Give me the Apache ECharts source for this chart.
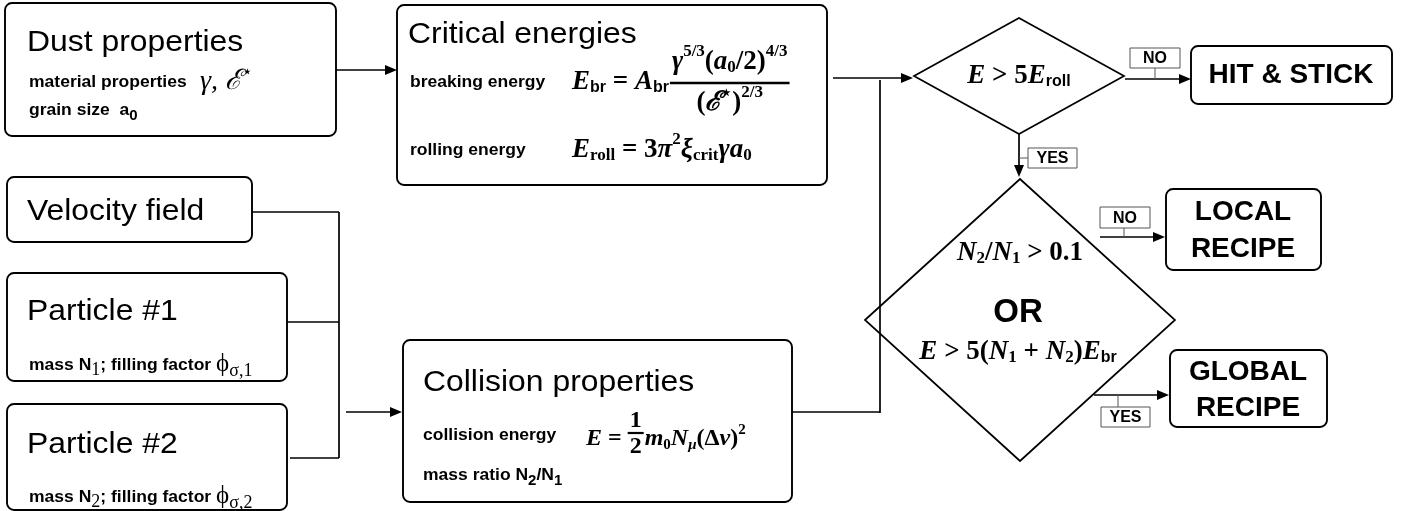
<!DOCTYPE html>
<html>
<head>
<meta charset="utf-8">
<script src="https://cdn.jsdelivr.net/npm/echarts@6/dist/echarts.min.js"></script>
<style>
  html, body { margin: 0; padding: 0; background: #fff; }
  #chart { width: 1405px; height: 511px; }
</style>
</head>
<body>
<div id="chart"></div>
<script>
// texts of the flow chart
var inputTitles = ['Dust properties', 'Velocity field', 'Particle #1', 'Particle #2'];
var stageTitles = ['Critical energies', 'Collision properties'];
var propLabels = ['material properties', 'grain size  a', 'breaking energy', 'rolling energy', 'collision energy', 'mass ratio N'];
var outcomes = ['HIT & STICK', 'LOCAL\nRECIPE', 'GLOBAL\nRECIPE'];
var branchTags = ['NO', 'YES'];
var joinWord = 'OR';

var SANS = "'Liberation Sans', Arial, sans-serif";
var SERIF = "'Liberation Serif', 'DejaVu Serif', serif";
var ST = {
    title: { fontSize: 29, fontFamily: SANS, sx: 1.1 },
    lab: { fontSize: 17, fontWeight: 'bold', fontFamily: SANS, sx: 1.03 },
    labSub: { fontSize: 15, fontWeight: 'bold', fontFamily: SANS },
    mi: { fontSize: 27, fontWeight: 'bold', fontStyle: 'italic', fontFamily: SERIF },
    mr: { fontSize: 27, fontWeight: 'bold', fontFamily: SERIF },
    sc: { fontSize: 17, fontWeight: 'bold', fontFamily: SERIF },
    ss: { fontSize: 16, fontWeight: 'bold', fontFamily: SANS },
    mi2: { fontSize: 24, fontWeight: 'bold', fontStyle: 'italic', fontFamily: SERIF },
    mr2: { fontSize: 24, fontWeight: 'bold', fontFamily: SERIF },
    sc2: { fontSize: 15, fontWeight: 'bold', fontFamily: SERIF },
    sci2: { fontSize: 15, fontWeight: 'bold', fontStyle: 'italic', fontFamily: SERIF },
    gi: { fontSize: 28, fontStyle: 'italic', fontFamily: SERIF },
    gs: { fontSize: 17, fontFamily: SERIF },
    phi: { fontSize: 25, fontFamily: SERIF },
    phs: { fontSize: 18, fontFamily: SERIF },
    big: { fontSize: 28, fontWeight: 'bold', fontFamily: SANS },
    or: { fontSize: 33, fontWeight: 'bold', fontFamily: SANS },
    tag: { fontSize: 16, fontWeight: 'bold', fontFamily: SANS }
};

var ctx = document.createElement('canvas').getContext('2d');
function measure(t, st) {
    ctx.font = (st.fontStyle || 'normal') + ' ' + (st.fontWeight || 'normal') + ' ' + st.fontSize + 'px ' + st.fontFamily;
    return ctx.measureText(t).width * (st.sx || 1);
}

var els = [];
function txt(x, y, t, st, align) {
    els.push({
        type: 'text', x: x, y: y, scaleX: st.sx || 1, silent: true,
        style: {
            text: t, fontSize: st.fontSize, fontFamily: st.fontFamily,
            fontWeight: st.fontWeight || 'normal', fontStyle: st.fontStyle || 'normal',
            fill: '#000', align: align || 'left', verticalAlign: 'middle', lineHeight: 36
        }
    });
}
// segs: [text, styleKey, dy]
function rowWidth(segs) {
    var w = 0;
    segs.forEach(function (s) { w += measure(s[0], ST[s[1]]); });
    return w;
}
function row(x, y, segs, anchor) {
    var w = rowWidth(segs);
    var cx = anchor === 'center' ? x - w / 2 : x;
    var x0 = cx;
    segs.forEach(function (s) {
        txt(cx, y + (s[2] || 0), s[0], ST[s[1]]);
        cx += measure(s[0], ST[s[1]]);
    });
    return { x0: x0, w: w };
}
function line(x1, y1, x2, y2, lw, color) {
    els.push({ type: 'line', silent: true, shape: { x1: x1, y1: y1, x2: x2, y2: y2 },
        style: { stroke: color || '#000', lineWidth: lw || 1.7 } });
}
function box(x, y, w, h, r, lw, color) {
    els.push({ type: 'rect', silent: true, shape: { x: x, y: y, width: w, height: h, r: r },
        style: { fill: '#fff', stroke: color || '#000', lineWidth: lw || 1.9 } });
}
function diamond(cx, cy, hw, hh) {
    els.push({ type: 'polygon', silent: true,
        shape: { points: [[cx - hw, cy], [cx, cy - hh], [cx + hw, cy], [cx, cy + hh]] },
        style: { fill: '#fff', stroke: '#000', lineWidth: 1.7 } });
}
function arrow(x1, y1, x2, y2) {
    var a = Math.atan2(y2 - y1, x2 - x1), L = 12, W = 5;
    var bx = x2 - L * Math.cos(a), by = y2 - L * Math.sin(a);
    line(x1, y1, bx, by, 1.7);
    els.push({ type: 'polygon', silent: true,
        shape: { points: [[x2, y2], [bx - W * Math.sin(a), by + W * Math.cos(a)], [bx + W * Math.sin(a), by - W * Math.cos(a)]] },
        style: { fill: '#000' } });
}
function tag(x, y, w, h, t) {
    box(x, y, w, h, 0, 1, '#555');
    txt(x + w / 2, y + h / 2 + 1, t, ST.tag, 'center');
}
function frac(x, y, num, den, dyN, dyD, lw) {
    var w = Math.max(rowWidth(num), rowWidth(den)) + 4;
    line(x, y, x + w, y, lw || 2.6);
    row(x + w / 2, y + dyN, num, 'center');
    row(x + w / 2, y + dyD, den, 'center');
    return x + w;
}

// ---- boxes ----
box(5, 3, 331, 133, 7);
box(397, 5, 430, 180, 7);
box(7, 177, 245, 65, 7);
box(7, 273, 280, 108, 7);
box(7, 404, 280, 106, 7);
box(403, 340, 389, 162, 7);
box(1191, 46, 201, 58, 7);
box(1166, 189, 155, 81, 7);
box(1170, 350, 157, 77, 7);
diamond(1019, 76, 105, 58);
diamond(1020, 320, 155, 141);

// ---- connectors ----
arrow(336, 70, 397, 70);
line(252, 212, 339, 212);
line(287, 322, 339, 322);
line(290, 458, 339, 458);
line(339, 212, 339, 458);
arrow(346, 412, 402, 412);
line(792, 412, 880, 412);
line(880, 80, 880, 413);
arrow(833, 78, 913, 78);
arrow(1125, 79, 1191, 79);
line(1155, 68, 1155, 79, 1, '#555');
tag(1130, 48, 50, 20, branchTags[0]);
arrow(1019, 134, 1019, 177);
line(1019, 158, 1028, 158, 1, '#555');
tag(1028, 148, 49, 20, branchTags[1]);
arrow(1100, 237, 1165, 237);
line(1124, 228, 1124, 237, 1, '#555');
tag(1100, 207, 50, 21, branchTags[0]);
arrow(1094, 395, 1169, 395);
line(1118, 395, 1118, 407, 1, '#555');
tag(1101, 407, 49, 20, branchTags[1]);

// ---- input boxes ----
txt(27, 43, inputTitles[0], ST.title);
txt(29, 82, propLabels[0], ST.lab);
row(200, 82, [['γ, ', 'gi'], ['ℰ', 'gi'], ['⋆', 'gs', -9]]);
row(29, 110, [[propLabels[1], 'lab'], ['0', 'labSub', 6]]);

txt(27, 212, inputTitles[1], ST.title);

txt(27, 312, inputTitles[2], ST.title);
row(29, 365, [['mass N', 'lab'], ['1', 'phs', 5], ['; filling factor ', 'lab'], ['ϕ', 'phi', -1], ['σ,1', 'phs', 6]]);
txt(27, 445, inputTitles[3], ST.title);
row(29, 497, [['mass N', 'lab'], ['2', 'phs', 5], ['; filling factor ', 'lab'], ['ϕ', 'phi', -1], ['σ,2', 'phs', 6]]);

// ---- critical energies ----
txt(408, 35, stageTitles[0], ST.title);
txt(410, 82, propLabels[2], ST.lab);
var r1 = row(572, 82, [['E', 'mi'], ['br', 'ss', 6], [' = ', 'mr'], ['A', 'mi'], ['br', 'ss', 6]]);
frac(r1.x0 + r1.w + 1, 83,
    [['γ', 'mi'], ['5/3', 'sc', -10], ['(', 'mr'], ['a', 'mi'], ['0', 'sc', 6], ['/2)', 'mr'], ['4/3', 'sc', -10]],
    [['(', 'mr'], ['ℰ', 'mi'], ['⋆', 'sc', -9], [')', 'mr'], ['2/3', 'sc', -10]], -21, 20);
txt(410, 150, propLabels[3], ST.lab);
row(572, 150, [['E', 'mi'], ['roll', 'sc', 6], [' = 3', 'mr'], ['π', 'mi'], ['2', 'sc', -10], ['ξ', 'mi'], ['crit', 'sc', 6], ['γ', 'mi'], ['a', 'mi'], ['0', 'sc', 6]]);

// ---- collision properties ----
txt(423, 383, stageTitles[1], ST.title);
txt(423, 435, propLabels[4], ST.lab);
var r2 = row(586, 439, [['E', 'mi2'], [' = ', 'mr2']]);
var fx = frac(r2.x0 + r2.w, 433, [['1', 'mr2']], [['2', 'mr2']], -12, 14, 2.2);
row(fx + 1, 439, [['m', 'mi2'], ['0', 'sc2', 6], ['N', 'mi2'], ['μ', 'sci2', 6], ['(Δ', 'mr2'], ['v', 'mi2'], [')', 'mr2'], ['2', 'sc2', -9]]);
row(423, 475, [[propLabels[5], 'lab'], ['2', 'labSub', 6], ['/N', 'lab'], ['1', 'labSub', 6]]);

// ---- decisions ----
row(1019, 76, [['E', 'mi'], [' > 5', 'mr'], ['E', 'mi'], ['roll', 'ss', 6]], 'center');
row(1020, 253, [['N', 'mi'], ['2', 'sc', 6], ['/', 'mr'], ['N', 'mi'], ['1', 'sc', 6], [' > 0.1', 'mr']], 'center');
txt(1018, 313, joinWord, ST.or, 'center');
row(1018, 352, [['E', 'mi'], [' > 5(', 'mr'], ['N', 'mi'], ['1', 'sc', 6], [' + ', 'mr'], ['N', 'mi'], ['2', 'sc', 6], [')', 'mr'], ['E', 'mi'], ['br', 'ss', 6]], 'center');

// ---- outcomes ----
txt(1291, 75, outcomes[0], ST.big, 'center');
outcomes[1].split('\n').forEach(function (t, i) { txt(1243, 212 + i * 37, t, ST.big, 'center'); });
outcomes[2].split('\n').forEach(function (t, i) { txt(1248, 372 + i * 36, t, ST.big, 'center'); });

var chart = echarts.init(document.getElementById('chart'), null, { renderer: 'canvas' });
chart.setOption({
    backgroundColor: '#fff',
    animation: false,
    graphic: { elements: els }
});
</script>
</body>
</html>
